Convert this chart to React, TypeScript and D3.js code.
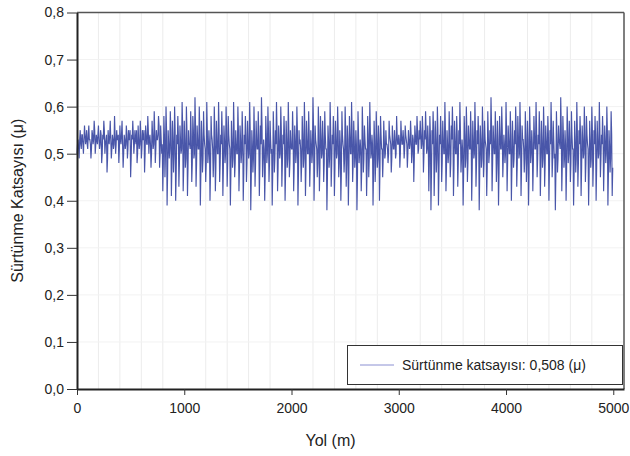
import React, { useEffect, useRef } from 'react';
import * as d3 from 'd3';

// friction coefficient: one reading every 10 m,
// plus the readings half a step later (the dense middle band)
const stepM = 10;
const mu0to1000 = [
  0.50, 0.53, 0.49, 0.55, 0.51, 0.54, 0.50, 0.56, 0.52, 0.55,
  0.51, 0.56, 0.53, 0.49, 0.55, 0.52, 0.57, 0.50, 0.54, 0.52,
  0.56, 0.51, 0.55, 0.48, 0.54, 0.57, 0.50, 0.53, 0.46, 0.55,
  0.52, 0.57, 0.49, 0.54, 0.51, 0.58, 0.50, 0.55, 0.53, 0.48,
  0.56, 0.52, 0.57, 0.47, 0.54, 0.51, 0.56, 0.49, 0.55, 0.53,
  0.45, 0.54, 0.57, 0.50, 0.55, 0.52, 0.48, 0.56, 0.51, 0.57,
  0.49, 0.55, 0.53, 0.46, 0.56, 0.52, 0.58, 0.50, 0.54, 0.47,
  0.57, 0.51, 0.59, 0.48, 0.55, 0.53, 0.58, 0.47, 0.56, 0.50,
  0.42, 0.58, 0.45, 0.60, 0.39, 0.55, 0.49, 0.59, 0.41, 0.57,
  0.46, 0.60, 0.40, 0.54, 0.58, 0.43, 0.56, 0.50, 0.61, 0.42,
];
const mu1000to2000 = [
  0.57, 0.47, 0.60, 0.41, 0.55, 0.52, 0.59, 0.44, 0.58, 0.49,
  0.62, 0.43, 0.56, 0.51, 0.60, 0.39, 0.57, 0.46, 0.59, 0.52,
  0.44, 0.61, 0.48, 0.55, 0.40, 0.58, 0.53, 0.45, 0.60, 0.42,
  0.57, 0.50, 0.61, 0.44, 0.54, 0.59, 0.41, 0.56, 0.48, 0.60,
  0.43, 0.58, 0.52, 0.39, 0.57, 0.47, 0.61, 0.45, 0.55, 0.50,
  0.60, 0.42, 0.56, 0.48, 0.59, 0.40, 0.54, 0.58, 0.44, 0.57,
  0.49, 0.61, 0.38, 0.55, 0.46, 0.60, 0.43, 0.57, 0.51, 0.59,
  0.41, 0.56, 0.62, 0.45, 0.53, 0.40, 0.58, 0.48, 0.60, 0.44,
  0.57, 0.50, 0.39, 0.59, 0.46, 0.55, 0.61, 0.42, 0.56, 0.49,
  0.60, 0.43, 0.54, 0.58, 0.40, 0.57, 0.47, 0.61, 0.45, 0.55,
];
const mu2000to3000 = [
  0.51, 0.59, 0.42, 0.56, 0.48, 0.60, 0.39, 0.55, 0.53, 0.44,
  0.58, 0.47, 0.61, 0.41, 0.57, 0.50, 0.59, 0.43, 0.55, 0.48,
  0.62, 0.40, 0.56, 0.52, 0.45, 0.60, 0.42, 0.58, 0.49, 0.57,
  0.44, 0.59, 0.51, 0.38, 0.56, 0.47, 0.61, 0.43, 0.54, 0.58,
  0.41, 0.57, 0.49, 0.60, 0.45, 0.55, 0.40, 0.59, 0.52, 0.46,
  0.60, 0.43, 0.56, 0.39, 0.58, 0.50, 0.61, 0.44, 0.57, 0.47,
  0.55, 0.38, 0.59, 0.48, 0.53, 0.42, 0.60, 0.46, 0.56, 0.51,
  0.41, 0.58, 0.45, 0.61, 0.49, 0.54, 0.39, 0.57, 0.44, 0.59,
  0.47, 0.56, 0.40, 0.58, 0.51, 0.45, 0.57, 0.49, 0.55, 0.52,
  0.48, 0.57, 0.53, 0.46, 0.56, 0.51, 0.55, 0.49, 0.58, 0.52,
];
const mu3000to4000 = [
  0.54, 0.47, 0.57, 0.52, 0.55, 0.49, 0.56, 0.53, 0.47, 0.55,
  0.51, 0.57, 0.48, 0.54, 0.44, 0.56, 0.52, 0.58, 0.50, 0.55,
  0.57, 0.51, 0.58, 0.46, 0.55, 0.59, 0.50, 0.56, 0.42, 0.58,
  0.38, 0.55, 0.59, 0.41, 0.57, 0.46, 0.60, 0.39, 0.54, 0.58,
  0.44, 0.57, 0.50, 0.61, 0.42, 0.55, 0.48, 0.59, 0.45, 0.56,
  0.60, 0.41, 0.57, 0.50, 0.58, 0.43, 0.55, 0.61, 0.46, 0.53,
  0.39, 0.58, 0.47, 0.60, 0.44, 0.56, 0.51, 0.59, 0.40, 0.57,
  0.49, 0.61, 0.43, 0.55, 0.58, 0.38, 0.56, 0.47, 0.60, 0.45,
  0.57, 0.52, 0.41, 0.59, 0.48, 0.55, 0.62, 0.42, 0.56, 0.50,
  0.59, 0.44, 0.57, 0.39, 0.58, 0.51, 0.60, 0.45, 0.54, 0.48,
];
const mu4000to5000 = [
  0.61, 0.42, 0.56, 0.50, 0.59, 0.40, 0.57, 0.47, 0.55, 0.60,
  0.43, 0.58, 0.49, 0.61, 0.41, 0.56, 0.53, 0.46, 0.59, 0.44,
  0.57, 0.39, 0.60, 0.48, 0.55, 0.42, 0.58, 0.51, 0.61, 0.45,
  0.54, 0.59, 0.41, 0.57, 0.47, 0.60, 0.43, 0.56, 0.50, 0.58,
  0.40, 0.55, 0.61, 0.45, 0.57, 0.49, 0.38, 0.59, 0.46, 0.56,
  0.52, 0.62, 0.42, 0.58, 0.47, 0.55, 0.40, 0.60, 0.48, 0.57,
  0.44, 0.59, 0.51, 0.39, 0.57, 0.46, 0.61, 0.43, 0.55, 0.58,
  0.41, 0.56, 0.49, 0.60, 0.44, 0.58, 0.52, 0.39, 0.57, 0.47,
  0.60, 0.43, 0.55, 0.58, 0.40, 0.57, 0.49, 0.61, 0.45, 0.54,
  0.58, 0.42, 0.56, 0.48, 0.60, 0.39, 0.55, 0.46, 0.59, 0.41,
];

// readings at 5, 15, 25 ... m
const muHalf0to1000 = [
  0.52, 0.51, 0.53, 0.52, 0.54, 0.52, 0.53, 0.54, 0.53, 0.52,
  0.54, 0.53, 0.52, 0.51, 0.54, 0.53, 0.55, 0.52, 0.53, 0.54,
  0.53, 0.52, 0.54, 0.50, 0.53, 0.55, 0.52, 0.54, 0.49, 0.53,
  0.54, 0.53, 0.51, 0.53, 0.52, 0.54, 0.52, 0.53, 0.54, 0.51,
  0.53, 0.54, 0.52, 0.50, 0.53, 0.52, 0.54, 0.51, 0.53, 0.55,
  0.49, 0.53, 0.54, 0.52, 0.53, 0.55, 0.50, 0.53, 0.52, 0.54,
  0.51, 0.53, 0.55, 0.50, 0.54, 0.52, 0.55, 0.53, 0.52, 0.50,
  0.54, 0.52, 0.55, 0.51, 0.53, 0.54, 0.56, 0.50, 0.53, 0.52,
  0.48, 0.54, 0.50, 0.55, 0.46, 0.52, 0.51, 0.55, 0.47, 0.53,
  0.50, 0.55, 0.46, 0.52, 0.54, 0.48, 0.53, 0.51, 0.56, 0.47,
];
const muHalf1000to2000 = [
  0.53, 0.49, 0.55, 0.47, 0.52, 0.51, 0.54, 0.48, 0.55, 0.50,
  0.56, 0.48, 0.53, 0.51, 0.55, 0.46, 0.53, 0.49, 0.54, 0.51,
  0.48, 0.55, 0.50, 0.52, 0.46, 0.54, 0.51, 0.49, 0.55, 0.47,
  0.53, 0.50, 0.55, 0.48, 0.52, 0.54, 0.47, 0.53, 0.50, 0.55,
  0.48, 0.54, 0.51, 0.46, 0.53, 0.49, 0.55, 0.48, 0.52, 0.50,
  0.55, 0.47, 0.53, 0.50, 0.54, 0.46, 0.52, 0.54, 0.48, 0.53,
  0.50, 0.55, 0.45, 0.52, 0.49, 0.54, 0.48, 0.53, 0.51, 0.54,
  0.47, 0.52, 0.56, 0.49, 0.51, 0.46, 0.54, 0.50, 0.55, 0.48,
  0.53, 0.51, 0.46, 0.54, 0.49, 0.52, 0.55, 0.47, 0.53, 0.50,
  0.55, 0.48, 0.52, 0.54, 0.46, 0.53, 0.49, 0.55, 0.48, 0.52,
];
const muHalf2000to3000 = [
  0.51, 0.54, 0.47, 0.53, 0.50, 0.55, 0.46, 0.52, 0.51, 0.48,
  0.54, 0.49, 0.55, 0.47, 0.53, 0.50, 0.54, 0.48, 0.52, 0.50,
  0.56, 0.47, 0.53, 0.51, 0.48, 0.55, 0.47, 0.54, 0.50, 0.53,
  0.48, 0.54, 0.51, 0.45, 0.53, 0.49, 0.55, 0.48, 0.52, 0.54,
  0.47, 0.53, 0.50, 0.55, 0.48, 0.52, 0.46, 0.54, 0.51, 0.49,
  0.55, 0.48, 0.53, 0.46, 0.54, 0.50, 0.55, 0.48, 0.53, 0.49,
  0.52, 0.45, 0.54, 0.50, 0.51, 0.47, 0.55, 0.49, 0.53, 0.51,
  0.47, 0.54, 0.49, 0.55, 0.50, 0.52, 0.46, 0.53, 0.48, 0.54,
  0.49, 0.53, 0.47, 0.54, 0.51, 0.49, 0.53, 0.50, 0.52, 0.51,
  0.50, 0.54, 0.52, 0.49, 0.53, 0.51, 0.53, 0.50, 0.54, 0.52,
];
const muHalf3000to4000 = [
  0.53, 0.50, 0.54, 0.52, 0.53, 0.51, 0.54, 0.52, 0.50, 0.53,
  0.52, 0.54, 0.50, 0.53, 0.49, 0.54, 0.52, 0.55, 0.51, 0.53,
  0.54, 0.52, 0.55, 0.50, 0.53, 0.55, 0.51, 0.53, 0.48, 0.54,
  0.46, 0.52, 0.55, 0.47, 0.53, 0.49, 0.55, 0.46, 0.52, 0.54,
  0.48, 0.53, 0.50, 0.55, 0.47, 0.52, 0.50, 0.54, 0.48, 0.53,
  0.55, 0.47, 0.53, 0.50, 0.54, 0.48, 0.52, 0.55, 0.49, 0.51,
  0.46, 0.54, 0.49, 0.55, 0.48, 0.53, 0.51, 0.54, 0.47, 0.53,
  0.50, 0.55, 0.48, 0.52, 0.54, 0.46, 0.53, 0.49, 0.55, 0.48,
  0.53, 0.51, 0.47, 0.54, 0.50, 0.52, 0.56, 0.48, 0.53, 0.50,
  0.54, 0.48, 0.53, 0.46, 0.54, 0.51, 0.55, 0.49, 0.52, 0.50,
];
const muHalf4000to5000 = [
  0.55, 0.48, 0.53, 0.50, 0.54, 0.47, 0.53, 0.49, 0.52, 0.55,
  0.48, 0.54, 0.50, 0.55, 0.47, 0.53, 0.51, 0.49, 0.54, 0.48,
  0.53, 0.46, 0.55, 0.50, 0.52, 0.48, 0.54, 0.51, 0.55, 0.49,
  0.52, 0.54, 0.47, 0.53, 0.49, 0.55, 0.48, 0.53, 0.50, 0.54,
  0.47, 0.52, 0.55, 0.49, 0.53, 0.50, 0.46, 0.54, 0.49, 0.53,
  0.51, 0.56, 0.48, 0.54, 0.49, 0.52, 0.47, 0.55, 0.50, 0.53,
  0.48, 0.54, 0.51, 0.46, 0.53, 0.49, 0.55, 0.48, 0.52, 0.54,
  0.47, 0.53, 0.50, 0.55, 0.48, 0.54, 0.51, 0.46, 0.53, 0.49,
  0.55, 0.48, 0.52, 0.54, 0.47, 0.53, 0.50, 0.55, 0.49, 0.52,
  0.54, 0.48, 0.53, 0.50, 0.55, 0.46, 0.52, 0.49, 0.54, 0.47,
];

const xTicks = [0, 1000, 2000, 3000, 4000, 5000];
const yTicks = [0, 0.1, 0.2, 0.3, 0.4, 0.5, 0.6, 0.7, 0.8];
const xTitle = 'Yol (m)';
const yTitle = 'Sürtünme Katsayısı (μ)';
const legendLabel = 'Sürtünme katsayısı: 0,508 (μ)';

const W = 630;
const H = 456;
const font = '"Liberation Sans", Arial, sans-serif';

export default function App() {
  const ref = useRef<SVGGElement | null>(null);

  useEffect(() => {
    const g = d3.select(ref.current);
    g.selectAll('*').remove();

    const left = 77, right = 624, top = 12.5, bottom = 389;
    const x = d3.scaleLinear().domain([0, 5100]).range([left, right]);
    const y = d3.scaleLinear().domain([0, 0.8]).range([bottom, top]);

    const mu = [...mu0to1000, ...mu1000to2000, ...mu2000to3000, ...mu3000to4000, ...mu4000to5000];
    const muHalf = [...muHalf0to1000, ...muHalf1000to2000, ...muHalf2000to3000, ...muHalf3000to4000, ...muHalf4000to5000];
    const data: { d: number; v: number }[] = [];
    mu.forEach((v, i) => {
      data.push({ d: i * stepM, v });
      data.push({ d: i * stepM + stepM / 2, v: muHalf[i] });
    });

    // grid
    const vGrid = d3.range(200, 5100, 200).filter((v) => v % 1000 !== 0);
    g.append('g').selectAll('line').data(vGrid).enter().append('line')
      .attr('x1', (d) => x(d)).attr('x2', (d) => x(d))
      .attr('y1', top).attr('y2', bottom)
      .attr('stroke', '#ececec').attr('stroke-width', 1);
    g.append('g').selectAll('line').data(yTicks.slice(1, -1)).enter().append('line')
      .attr('x1', left).attr('x2', right)
      .attr('y1', (d) => y(d)).attr('y2', (d) => y(d))
      .attr('stroke', '#f2f2f2').attr('stroke-width', 1);

    // the signal
    const line = d3.line<{ d: number; v: number }>()
      .x((p) => x(p.d))
      .y((p) => y(p.v));
    g.append('path')
      .datum(data)
      .attr('d', line)
      .attr('fill', 'none')
      .attr('stroke', '#3544a0')
      .attr('stroke-opacity', 0.9)
      .attr('stroke-width', 1.15);

    // frame
    g.append('line').attr('x1', left).attr('x2', right).attr('y1', top).attr('y2', top)
      .attr('stroke', '#555').attr('stroke-width', 1.5);
    g.append('line').attr('x1', right).attr('x2', right).attr('y1', top).attr('y2', bottom)
      .attr('stroke', '#555').attr('stroke-width', 1.5);

    // axes
    const xAxis = g.append('g')
      .attr('transform', `translate(0,${bottom})`)
      .call(d3.axisBottom(x).tickValues(xTicks).tickSize(6).tickSizeOuter(0).tickPadding(8).tickFormat(d3.format('d')));
    xAxis.select('.domain').attr('stroke', '#222').attr('stroke-width', 2);
    const yAxis = g.append('g')
      .attr('transform', `translate(${left},0)`)
      .call(d3.axisLeft(y).tickValues(yTicks).tickSize(10).tickSizeOuter(0).tickPadding(3)
        .tickFormat((d) => d3.format('.1f')(d as number).replace('.', ',')));
    yAxis.select('.domain').attr('stroke', '#222').attr('stroke-width', 2);
    [xAxis, yAxis].forEach((a) => {
      a.selectAll('.tick line').attr('stroke', '#333');
      a.selectAll('text').attr('font-family', font).attr('font-size', 14).attr('fill', '#222');
    });

    // titles
    g.append('text')
      .attr('x', (left + right) / 2 - 20).attr('y', 446)
      .attr('text-anchor', 'middle')
      .attr('font-family', font).attr('font-size', 16).attr('fill', '#222')
      .text(xTitle);
    g.append('text')
      .attr('transform', `translate(23,${(top + bottom) / 2}) rotate(-90)`)
      .attr('text-anchor', 'middle')
      .attr('font-family', font).attr('font-size', 16).attr('fill', '#222')
      .text(yTitle);

    // legend
    const lg = g.append('g');
    lg.append('rect').attr('x', 347.5).attr('y', 345.5).attr('width', 275).attr('height', 39)
      .attr('fill', '#fff').attr('stroke', '#333').attr('stroke-width', 1);
    lg.append('line').attr('x1', 360).attr('x2', 394).attr('y1', 365).attr('y2', 365)
      .attr('stroke', '#8b90d2').attr('stroke-width', 1);
    lg.append('text').attr('x', 402).attr('y', 370)
      .attr('font-family', font).attr('font-size', 14).attr('fill', '#222')
      .text(legendLabel);
  }, []);

  return (
    <svg width={W} height={H} style={{ position: 'absolute', left: 0, top: 0, background: '#fff' }}>
      <g ref={ref}></g>
    </svg>
  );
}
